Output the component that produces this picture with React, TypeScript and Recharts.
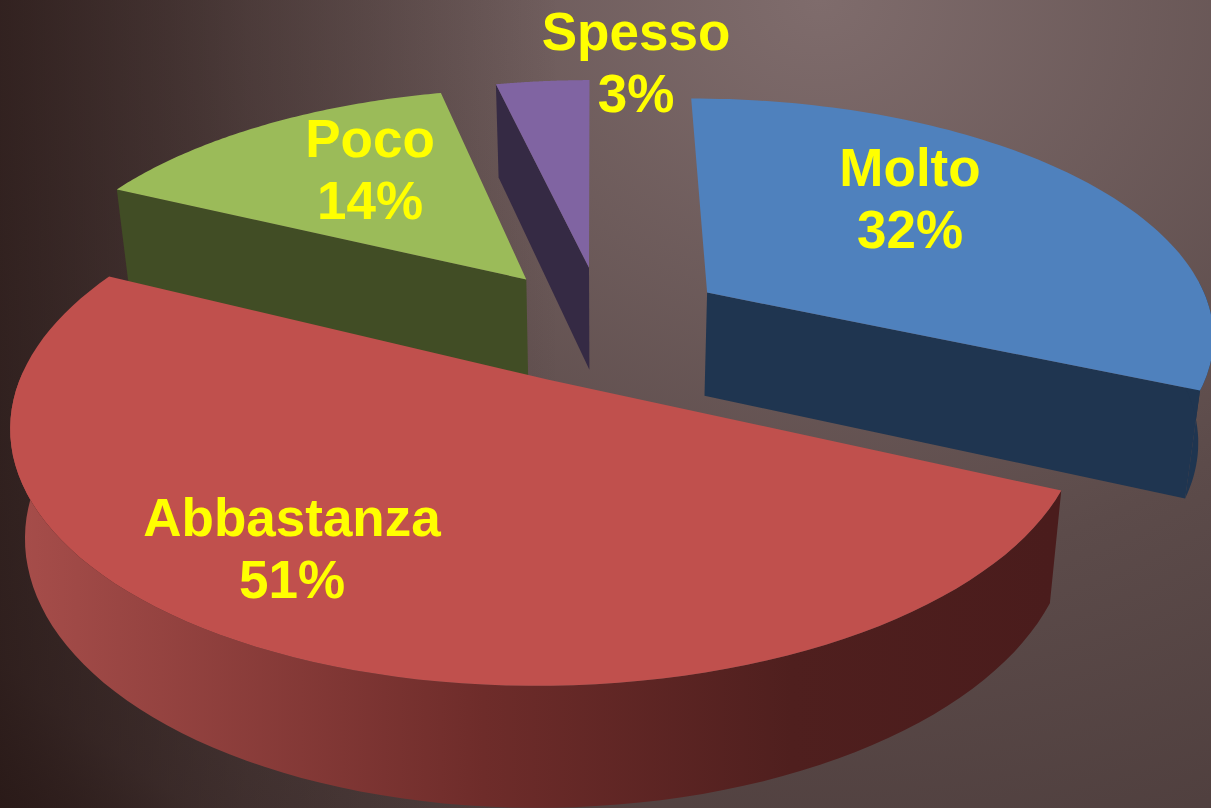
import { PieChart, Pie } from 'recharts';

// drawn in this order so that the red slice sits over the green wall
const sliceNames = ['Poco', 'Spesso', 'Molto', 'Abbastanza'];
const sliceValues = [14.23, 3.55, 31.72, 50.5];
const shownPercents = [14, 3, 32, 51];

const topColors: Record<string, string> = { Poco: '#9BBB59', Spesso: '#8064A2', Molto: '#4F81BD', Abbastanza: '#C0504D' };
const wallColors: Record<string, string> = { Poco: '#414D25', Spesso: '#352A44', Molto: '#1F3550', Abbastanza: 'url(#redWall)' };
const labelSpots: Record<string, [number, number]> = { Poco: [370, 157], Spesso: [636, 50], Molto: [910, 186], Abbastanza: [292, 536] };

const chartData = sliceNames.map((name, i) => ({ name, value: sliceValues[i], shown: shownPercents[i] }));

const WIDTH = 1211;
const HEIGHT = 808;
const TILT = 0.4635;
const PERSPECTIVE = 0.1644;
const EXPLODE = 0.25;
const DEPTH = 0.206;
const BOTTOM_SCALE = 0.975;

const RAD = Math.PI / 180;

type Pt = [number, number];

const project = (cx: number, cy: number, R: number, x: number, z: number, bottom = false): Pt => {
  const s = 1 / (1 - PERSPECTIVE * z);
  const k = bottom ? BOTTOM_SCALE : 1;
  return [cx + R * x * s * k, cy + R * s * (TILT * z * k + (bottom ? DEPTH : 0))];
};

const toPath = (pts: Pt[]) => 'M' + pts.map((p) => `${p[0].toFixed(1)},${p[1].toFixed(1)}`).join('L') + 'Z';

const PerspectiveSlice = (props: any) => {
  const { cx, cy, outerRadius: R, startAngle, endAngle, name } = props;
  const mid = (startAngle + endAngle) / 2;
  const ox = EXPLODE * Math.cos(mid * RAD);
  const oz = -EXPLODE * Math.sin(mid * RAD);

  const steps = 90;
  const angles: number[] = [];
  for (let i = 0; i <= steps; i++) angles.push(startAngle + ((endAngle - startAngle) * i) / steps);
  const rim = (a: number, bottom = false) => project(cx, cy, R, ox + Math.cos(a * RAD), oz - Math.sin(a * RAD), bottom);

  const apex = project(cx, cy, R, ox, oz);
  const apexLow = project(cx, cy, R, ox, oz, true);
  const midTop = rim(mid);

  // cut faces: only those that turn towards the viewer
  const cut = (a: number) => {
    const p = rim(a);
    const ex = p[0] - apex[0];
    const ey = p[1] - apex[1];
    const side = ex * (midTop[1] - apex[1]) - ey * (midTop[0] - apex[0]);
    if (ex * side >= 0 || Math.abs(ex) / Math.hypot(ex, ey) < 0.1) return null;
    return toPath([apex, p, rim(a, true), apexLow]);
  };

  const front = angles.filter((a) => -Math.sin(a * RAD) > -0.05);
  const wall = front.length > 1 ? toPath([...front.map((a) => rim(a)), ...[...front].reverse().map((a) => rim(a, true))]) : null;
  const top = toPath([apex, ...angles.map((a) => rim(a))]);
  const wallFill = wallColors[name];

  return (
    <g>
      <defs>
        <linearGradient id="redWall" gradientUnits="userSpaceOnUse" x1="20" y1="0" x2="1050" y2="0">
          <stop offset="0" stopColor="#A64D4A" />
          <stop offset="0.45" stopColor="#6E2C2A" />
          <stop offset="0.75" stopColor="#4F1F1E" />
          <stop offset="1" stopColor="#4A1C1C" />
        </linearGradient>
      </defs>
      {[startAngle, endAngle].map((a) => {
        const d = cut(a);
        return d ? <path key={a} d={d} fill={wallFill} /> : null;
      })}
      {wall && <path d={wall} fill={wallFill} />}
      <path d={top} fill={topColors[name]} />
    </g>
  );
};

const renderLabel = (props: any) => {
  const { name, payload } = props;
  const [x, y] = labelSpots[name];
  return (
    <text
      key={name}
      x={x}
      y={y}
      textAnchor="middle"
      fontFamily="'Liberation Sans', Arial, sans-serif"
      fontWeight="bold"
      fontSize={53}
      fill="#FFFF00"
    >
      <tspan x={x}>{name}</tspan>
      <tspan x={x} dy={62}>{payload.shown}%</tspan>
    </text>
  );
};

export default function App() {
  return (
    <div
      style={{
        position: 'fixed',
        left: 0,
        top: 0,
        width: WIDTH,
        height: HEIGHT,
        overflow: 'hidden',
        background:
          'linear-gradient(to right, rgba(38,22,20,0.75) 0px, rgba(38,22,20,0.35) 250px, rgba(38,22,20,0) 560px), radial-gradient(ellipse 1300px 1150px at 820px 0px, #7F6C6C 0%, #5C4B4A 50%, #4C3C3B 85%, #2A1A18 100%)',
      }}
    >
      <PieChart width={WIDTH} height={HEIGHT} margin={{ top: 0, right: 0, bottom: 0, left: 0 }}>
        <Pie
          data={chartData}
          dataKey="value"
          nameKey="name"
          cx={603}
          cy={324}
          innerRadius={0}
          outerRadius={508}
          startAngle={-205.8}
          endAngle={-565.8}
          stroke="none"
          shape={PerspectiveSlice}
          label={renderLabel}
          labelLine={false}
          isAnimationActive={false}
        />
      </PieChart>
    </div>
  );
}
